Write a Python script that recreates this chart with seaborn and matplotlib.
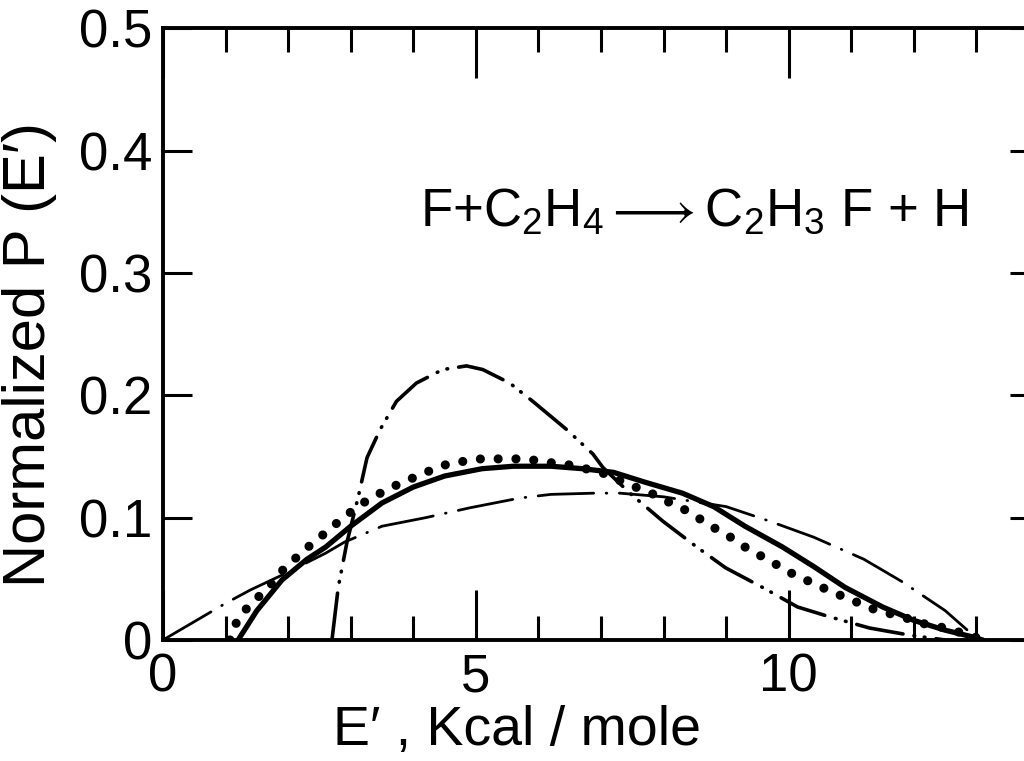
import matplotlib
matplotlib.use('Agg')
import matplotlib.pyplot as plt
from matplotlib.ticker import MultipleLocator
import pandas as pd
import seaborn as sns

# values: E' (kcal/mole) vs normalized P(E')
solid_x = [1.2, 1.5, 1.9, 2.3, 2.6, 3.0, 3.5, 4.0, 4.5, 5.1, 5.6, 6.2, 6.7, 7.2, 7.7,
           8.3, 8.8, 9.3, 9.9, 10.4, 10.9, 11.5, 12.0, 12.5, 12.9, 13.1]
solid_y = [0.0, 0.024, 0.049, 0.066, 0.076, 0.093, 0.112, 0.125, 0.134, 0.140, 0.142,
           0.142, 0.140, 0.137, 0.129, 0.120, 0.109, 0.093, 0.076, 0.060, 0.043, 0.027,
           0.016, 0.008, 0.003, 0.0]

dot_x = [1.07, 1.2, 1.36, 1.52, 1.69, 1.87, 2.08, 2.27, 2.49, 2.69, 2.89, 3.13, 3.4,
         3.66, 3.93, 4.2, 4.5, 4.8, 5.08, 5.37, 5.65, 5.92, 6.18, 6.5, 7.0, 7.5, 7.8,
         8.07, 8.32, 8.61, 8.83, 9.07, 9.3, 9.58, 9.86, 10.13, 10.42, 10.69, 10.96,
         11.25, 11.5, 11.74, 12.0, 12.24, 12.49, 12.75, 13.0]
dot_y = [0.0, 0.018, 0.027, 0.035, 0.043, 0.055, 0.065, 0.074, 0.083, 0.092, 0.100,
         0.110, 0.118, 0.125, 0.131, 0.137, 0.143, 0.146, 0.148, 0.148, 0.148, 0.147,
         0.145, 0.143, 0.137, 0.126, 0.120, 0.113, 0.107, 0.098, 0.091, 0.084, 0.076,
         0.068, 0.060, 0.052, 0.046, 0.039, 0.034, 0.027, 0.023, 0.020, 0.016, 0.012,
         0.010, 0.006, 0.002]

dashdot_x = [0.0, 1.0, 1.4, 1.9, 2.6, 2.9, 3.5, 4.2, 4.9, 5.4, 5.7, 6.2, 6.9, 7.3, 8.0,
             8.5, 9.0, 9.7, 10.4, 11.2, 11.8, 12.5, 12.9, 13.05]
dashdot_y = [0.0, 0.030, 0.041, 0.053, 0.071, 0.080, 0.093, 0.100, 0.108, 0.113, 0.116,
             0.119, 0.120, 0.120, 0.117, 0.113, 0.109, 0.097, 0.084, 0.066, 0.048, 0.024,
             0.006, 0.0]

dd_x = [2.7, 2.8, 2.94, 3.12, 3.26, 3.47, 3.73, 4.05, 4.47, 4.85, 5.11, 5.54, 5.91, 6.45,
        6.87, 7.03, 7.46, 7.99, 8.53, 8.99, 9.58, 10.14, 10.65, 11.29, 11.93, 12.5]
dd_y = [0.0, 0.043, 0.080, 0.117, 0.149, 0.172, 0.195, 0.210, 0.221, 0.224, 0.221, 0.210,
        0.195, 0.172, 0.152, 0.141, 0.120, 0.097, 0.076, 0.059, 0.043, 0.027, 0.019,
        0.0098, 0.004, 0.0]

x_major = [0, 5, 10]
y_major = [0, 0.1, 0.2, 0.3, 0.4, 0.5]
y_labels = ['0', '0.1', '0.2', '0.3', '0.4', '0.5']

sns.set_theme(style='ticks')
plt.rcParams['font.family'] = ['Liberation Sans', 'DejaVu Sans']
plt.rcParams['mathtext.fontset'] = 'custom'
plt.rcParams['mathtext.rm'] = 'Liberation Sans'
plt.rcParams['mathtext.it'] = 'Liberation Sans'
plt.rcParams['lines.scale_dashes'] = False
for k in ['text.color', 'axes.labelcolor', 'xtick.color', 'ytick.color', 'axes.edgecolor']:
    plt.rcParams[k] = 'black'

fig = plt.figure(figsize=(10.24, 7.61), dpi=100)
ax = fig.add_axes([0.1592, 0.159, 0.8555, 0.804])

solid_df = pd.DataFrame({'E': solid_x, 'P': solid_y})
dot_df = pd.DataFrame({'E': dot_x, 'P': dot_y})
dashdot_df = pd.DataFrame({'E': dashdot_x, 'P': dashdot_y})
dd_df = pd.DataFrame({'E': dd_x, 'P': dd_y})

sns.lineplot(data=solid_df, x='E', y='P', ax=ax, color='black', lw=3.8,
             estimator=None, solid_capstyle='round')
sns.lineplot(data=dot_df, x='E', y='P', ax=ax, color='black', lw=6.6,
             estimator=None, linestyle=(0, (0.01, 12.8)), dash_capstyle='round')
sns.lineplot(data=dashdot_df, x='E', y='P', ax=ax, color='black', lw=2.0,
             estimator=None, linestyle=(0, (40, 9, 0.5, 9)), dash_capstyle='round')
sns.lineplot(data=dd_df, x='E', y='P', ax=ax, color='black', lw=2.6,
             estimator=None, linestyle=(0, (34, 8, 0.5, 7, 0.5, 8)), dash_capstyle='round')

ax.set_xlim(0, 14)
ax.set_ylim(0, 0.5)
ax.set_xticks(x_major)
ax.set_xticklabels([str(v) for v in x_major])
ax.xaxis.set_minor_locator(MultipleLocator(1))
ax.set_yticks(y_major)
ax.set_yticklabels(y_labels)

for s in ax.spines.values():
    s.set_linewidth(2.8)

ax.tick_params(axis='x', which='major', direction='in', length=36, width=2.2,
               top=True, bottom=True, labelsize=38, pad=9)
ax.tick_params(axis='x', which='minor', direction='in', length=17, width=2.2,
               top=True, bottom=True)
ax.tick_params(axis='y', which='major', direction='in', length=21, width=2.2,
               left=True, right=True, labelsize=38, pad=8)

ax.set_xlabel('E\u2032 , Kcal / mole', fontsize=40)
ax.set_ylabel('Normalized P (E\u2032)', fontsize=43)
ax.xaxis.label.set_va('baseline')
ax.xaxis.set_label_coords(0.404, -0.172)
ax.yaxis.set_label_coords(-0.121, 0.466)

ax.text(4.1, 0.339, r'F+C$_2$H$_4$$\longrightarrow$C$_2$H$_3$ F + H',
        fontsize=38, ha='left', va='baseline')

fig.savefig('out.png', dpi=100, facecolor='white')
